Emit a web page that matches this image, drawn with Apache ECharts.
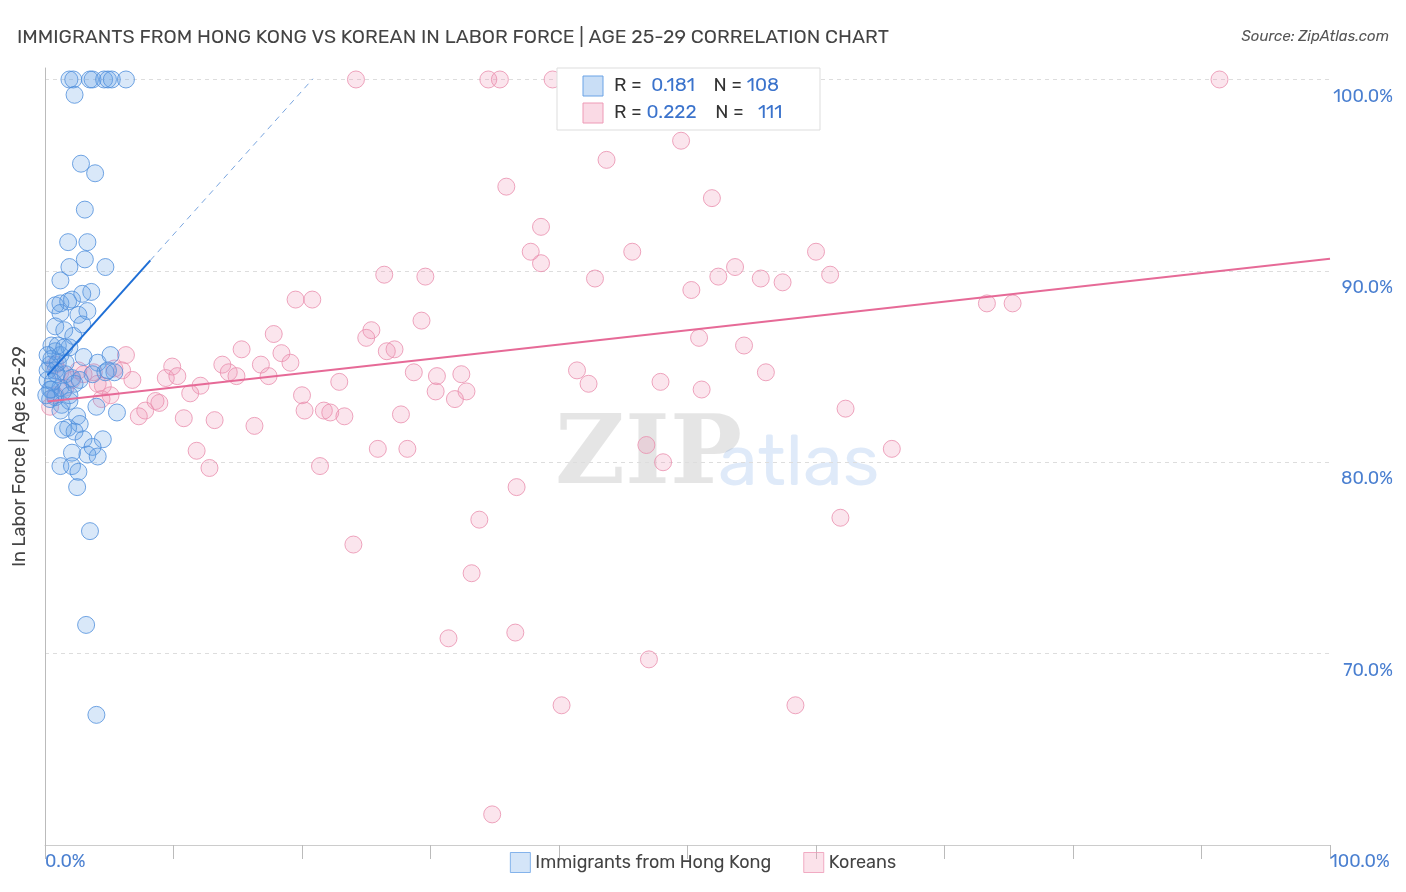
<!DOCTYPE html>
<html>
<head>
<meta charset="utf-8">
<script src="https://cdn.jsdelivr.net/npm/echarts@6/dist/echarts.min.js"></script>
<style>html,body{margin:0;padding:0;background:#fff}#chart{width:1406px;height:892px}</style>
</head>
<body>
<div id="chart"></div>
<script>
var hongKong = [
  [1.9,100],[2.2,100],[3.5,100],[3.7,100],[4.6,100],[4.9,100],[5.2,100],[6.3,100],[2.3,99.2],
  [2.8,95.6],[3.9,95.1],[3.1,93.2],[1.8,91.5],[3.3,91.5],[1.9,90.2],[3.1,90.6],[4.7,90.2],
  [1.2,89.5],[3.6,88.9],[2.9,88.8],[1.2,88.3],[1.8,88.4],[2.1,88.5],[0.8,88.2],[1.2,87.8],
  [2.6,87.7],[3.3,87.9],[2.9,87.2],[0.8,87.1],[1.5,86.9],[2.2,86.6],[0.5,86.1],[0.8,85.8],
  [1.2,85.6],[1.9,86.0],[3.0,85.5],[5.1,85.6],[4.1,85.2],[0.4,85.1],[0.8,84.8],[1.6,84.6],
  [2.1,84.4],[3.7,84.6],[4.7,84.7],[5.4,84.7],[0.2,84.3],[0.5,83.8],[1.2,83.9],[2.3,84.1],
  [0.8,83.4],[1.3,83.0],[1.9,83.2],[4.0,82.9],[5.6,82.6],[2.5,82.4],[2.7,82.0],[1.8,81.8],
  [2.3,81.6],[1.4,81.7],[4.5,81.2],[3.0,81.2],[3.7,80.8],[3.3,80.4],[4.1,80.3],[2.1,80.5],
  [1.2,79.8],[2.1,79.8],[2.6,79.5],[2.5,78.7],[3.5,76.4],[3.2,71.5],[4.0,66.8],
  [0.4,83.8],[0.5,85.4],[1.0,86.1],[1.6,85.2],[2.7,84.3],[4.9,84.8],[0.9,84.6],[1.4,83.7],
  [0.4,83.3],[1.2,82.7],[1.9,83.5],[0.2,85.6],[1.0,85.2],[1.5,86.0],[0.2,84.8],[0.6,84.2],[0.1,83.5]
];
var koreans = [
  [24.2,100],[34.5,100],[35.4,100],[39.5,100],[58.9,100],[91.4,100],[49.5,96.8],[43.7,95.8],
  [35.9,94.4],[51.9,93.8],[38.6,92.3],[45.7,91.0],[37.8,91.0],[60.0,91.0],[38.6,90.4],[26.4,89.8],
  [29.6,89.7],[42.8,89.6],[53.7,90.2],[52.4,89.7],[55.7,89.6],[57.4,89.4],[61.1,89.8],[50.3,89.0],
  [19.5,88.5],[20.8,88.5],[73.3,88.3],[75.3,88.3],[29.3,87.4],[17.8,86.7],[25.4,86.9],[25.0,86.5],
  [50.9,86.5],[54.4,86.1],[15.3,85.9],[18.4,85.7],[27.2,85.9],[26.6,85.8],[6.3,85.6],[19.1,85.2],
  [9.9,85.0],[13.8,85.1],[16.8,85.1],[14.3,84.7],[14.9,84.5],[28.7,84.7],[32.4,84.6],[41.4,84.8],
  [56.1,84.7],[9.4,84.4],[10.3,84.5],[6.8,84.3],[17.4,84.5],[22.9,84.2],[30.5,84.5],[42.3,84.1],
  [47.9,84.2],[12.1,84.0],[11.3,83.6],[32.8,83.7],[30.4,83.7],[31.9,83.3],[51.1,83.8],[20.0,83.5],
  [8.6,83.2],[7.8,82.7],[8.9,83.1],[7.3,82.4],[20.2,82.7],[10.8,82.3],[21.7,82.7],[22.2,82.6],
  [23.3,82.4],[13.2,82.2],[27.7,82.5],[62.3,82.8],[16.3,81.9],[11.8,80.6],[25.9,80.7],[28.2,80.7],
  [46.8,80.9],[65.9,80.7],[12.8,79.7],[21.4,79.8],[48.1,80.0],[36.7,78.7],[33.8,77.0],[61.9,77.1],
  [24.0,75.7],[33.2,74.2],[36.6,71.1],[31.4,70.8],[47.0,69.7],[40.2,67.3],[58.4,67.3],[34.8,61.6],
  [3.8,84.7],[4.1,84.1],[5.4,84.9],[6.0,84.8],[4.5,84.0],[3.0,84.6],[1.2,84.7],[0.8,85.1],
  [2.1,84.3],[1.6,83.9],[0.4,82.9],[0.8,83.5],[5.1,83.5],[4.4,83.3],[2.6,84.8]
];
var blueTrend = { a: 84.4, b: 0.75, x0: 0.2, x1: 8.2, xDash: 20.85 };
var pinkTrend = { a: 83.16, b: 0.0747, x0: 0.2, x1: 100 };
var stats = [['0.181', '108'], ['0.222', '111']];

function tl(t, x) { return [x, t.a + t.b * x]; }

var chart = echarts.init(document.getElementById('chart'));
var font = 'Rubik, "Noto Sans", sans-serif';
var option = {
  backgroundColor: '#fff',
  textStyle: { fontFamily: font },
  title: [
    { text: 'IMMIGRANTS FROM HONG KONG VS KOREAN IN LABOR FORCE | AGE 25-29 CORRELATION CHART',
      left: 12, top: 22, textStyle: { fontSize: 19.5, fontWeight: 'normal', color: '#444', fontFamily: font } },
    { text: 'Source: ZipAtlas.com', right: 12, top: 24,
      textStyle: { fontSize: 15, fontWeight: 'normal', fontStyle: 'italic', color: '#555', fontFamily: font } }
  ],
  grid: { left: 45, right: 76, top: 68, bottom: 47 },
  xAxis: {
    type: 'value', min: 0, max: 100, interval: 10,
    axisLine: { show: true, lineStyle: { color: '#ccc' } },
    axisTick: { show: true, length: 14, lineStyle: { color: '#bbb' } },
    splitLine: { show: false },
    axisLabel: { color: '#4a7fd0', fontSize: 18, margin: 8, showMinLabel: true, showMaxLabel: true,
      alignMinLabel: 'left', alignMaxLabel: 'left',
      formatter: function (v) { return (v === 0 || v === 100) ? v.toFixed(1) + '%' : ''; } }
  },
  yAxis: [{
    type: 'value', min: 60, max: 100.6, interval: 10, position: 'right',
    axisLine: { show: false }, axisTick: { show: false },
    splitLine: { showMaxLine: false, lineStyle: { color: '#ddd', type: [4, 4] } },
    axisLabel: { color: '#4a7fd0', fontSize: 18, align: 'right', margin: 63, verticalAlign: 'top', padding: [8, 0, 0, 0],
      formatter: function (v) { return (v % 10 === 0 && v > 60) ? v.toFixed(1) + '%' : ''; } }
  }, {
    type: 'value', min: 60, max: 100.6, position: 'left',
    name: 'In Labor Force | Age 25-29', nameLocation: 'middle', nameGap: 16,
    nameTextStyle: { fontSize: 18, color: '#444' },
    axisLine: { show: true, lineStyle: { color: '#bbb' } }, axisTick: { show: false },
    axisLabel: { show: false }, splitLine: { show: false }
  }],
  legend: {
    bottom: 14, left: 'center', itemWidth: 20, itemHeight: 20, itemGap: 32, icon: 'rect',
    textStyle: { fontSize: 18, color: '#444' },
    data: [
      { name: 'Immigrants from Hong Kong', itemStyle: { color: 'rgba(100,160,230,0.35)', borderColor: '#6aa3e6', borderWidth: 1 } },
      { name: 'Koreans', itemStyle: { color: 'rgba(240,150,180,0.35)', borderColor: '#ee9ab6', borderWidth: 1 } }
    ]
  },
  graphic: [
    { type: 'text', left: 555, top: 410, z: 0, style: { text: 'ZIP', fontSize: 96, fontFamily: 'DejaVu Serif, serif', fontWeight: 'bold', fill: 'rgba(0,0,0,0.10)' } },
    { type: 'text', left: 718, top: 428, z: 0, style: { text: 'atlas', fontSize: 72, fontFamily: font, fill: 'rgba(80,140,220,0.18)' } },
    { type: 'rect', shape: { x: 557, y: 68, width: 263, height: 62 }, style: { fill: '#fff', stroke: '#ddd' }, z: 10 },
    { type: 'rect', shape: { x: 583, y: 76, width: 20, height: 20 }, style: { fill: 'rgba(100,160,230,0.35)', stroke: '#6aa3e6' }, z: 11 },
    { type: 'rect', shape: { x: 583, y: 103, width: 20, height: 20 }, style: { fill: 'rgba(240,150,180,0.35)', stroke: '#ee9ab6' }, z: 11 },
    { type: 'text', x: 614, y: 76, z: 11, style: { rich: { l: { fontSize: 19, fill: '#333', fontFamily: font }, v: { fontSize: 19, fill: '#3b73cc', fontFamily: font } },
      text: '{l|R = }{v| ' + stats[0][0] + '}{l|    N = }{v|' + stats[0][1] + '}' } },
    { type: 'text', x: 614, y: 103, z: 11, style: { rich: { l: { fontSize: 19, fill: '#333', fontFamily: font }, v: { fontSize: 19, fill: '#3b73cc', fontFamily: font } },
      text: '{l|R = }{v|' + stats[1][0] + '}{l|    N = }{v|  ' + stats[1][1] + '}' } }
  ],
  series: [
    { name: 'Immigrants from Hong Kong', type: 'scatter', symbolSize: 17, data: hongKong, z: 3,
      itemStyle: { color: 'rgba(100,160,230,0.3)', borderColor: '#4f8fdc', borderWidth: 1 } },
    { name: 'Koreans', type: 'scatter', symbolSize: 17, data: koreans, z: 2,
      itemStyle: { color: 'rgba(240,150,180,0.3)', borderColor: '#ea8fae', borderWidth: 1 } },
    { type: 'line', data: [tl(blueTrend, blueTrend.x0), tl(blueTrend, blueTrend.x1)], symbol: 'none', z: 5,
      lineStyle: { color: '#1f6fd6', width: 2 }, silent: true },
    { type: 'line', data: [tl(blueTrend, blueTrend.x1), tl(blueTrend, blueTrend.xDash)], symbol: 'none', z: 5,
      lineStyle: { color: '#7aa6e0', width: 1, type: [6, 5] }, silent: true },
    { type: 'line', data: [tl(pinkTrend, pinkTrend.x0), tl(pinkTrend, pinkTrend.x1)], symbol: 'none', z: 5,
      lineStyle: { color: '#e66a97', width: 2 }, silent: true }
  ]
};
chart.setOption(option);
</script>
</body>
</html>
